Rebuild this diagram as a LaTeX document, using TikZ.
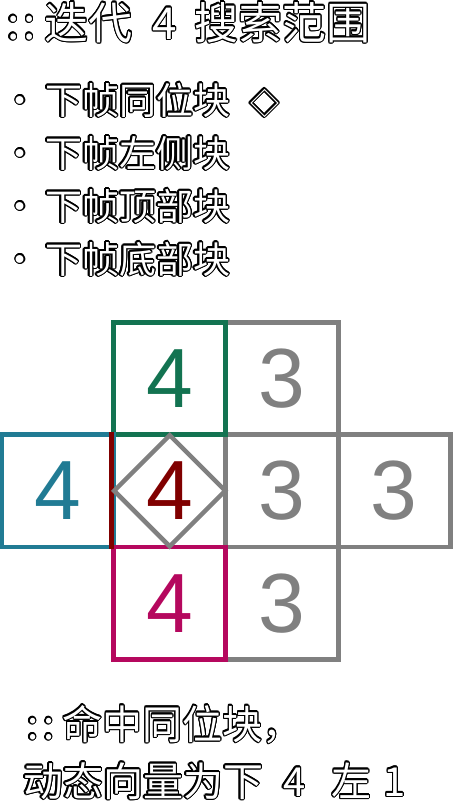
\documentclass[tikz,border=0pt]{standalone}
\usepackage{fontspec}
\setmainfont{Liberation Sans}
\newfontfamily\cjk{Noto Sans CJK SC}
\usepackage[copies]{contour}
\usetikzlibrary{calc}
\contourlength{1.3pt}
\definecolor{TopClr}{RGB}{19,115,81}
\definecolor{LeftClr}{RGB}{33,123,148}
\definecolor{SameClr}{RGB}{128,0,0}
\definecolor{BottomClr}{RGB}{181,8,94}
\definecolor{GridClr}{RGB}{128,128,128}
\newcommand{\outl}[1]{\contour{black}{#1}}

\begin{document}
\begin{tikzpicture}[x=1pt,y=-1pt,
  cell/.style={minimum size=112.3pt,inner sep=0pt,line width=4.8pt,font=\fontsize{84}{84}\selectfont},
  txt/.style={anchor=base west,inner sep=0pt,text=white,font=\cjk\fontsize{#1}{#1}\selectfont}]
\useasboundingbox (0,0) rectangle (453,801);

\node[txt=44] (title) at (7,39) {\outl{:\hspace{4pt}:\hspace{9pt}迭代\hspace{0.45em}4\hspace{0.4em}搜索范围}};

\node[txt=37] (dot1) at (1.5,114) {\outl{•}};
\node[txt=37] (item1) at (45,114) {\outl{下帧同位块\hspace{20pt}{\fontsize{29}{29}\selectfont◇}}};
\node[txt=37] (dot2) at (1.5,167) {\outl{•}};
\node[txt=37] (item2) at (45,167) {\outl{下帧左侧块}};
\node[txt=37] (dot3) at (1.5,220) {\outl{•}};
\node[txt=37] (item3) at (45,220) {\outl{下帧顶部块}};
\node[txt=37] (dot4) at (1.5,273) {\outl{•}};
\node[txt=37] (item4) at (45,273) {\outl{下帧底部块}};

\node[cell,draw=GridClr,text=GridClr] (topright) at (282,378.5) {3};
\node[cell,draw=GridClr,text=GridClr] (right) at (282,490.8) {3};
\node[cell,draw=GridClr,text=GridClr] (farright) at (394.3,490.8) {3};
\node[cell,draw=GridClr,text=GridClr] (bottomright) at (282,603.1) {3};

\node[cell,draw=TopClr,text=TopClr] (top) at (169.7,378.5) {4};
\node[cell,draw=LeftClr,text=LeftClr] (left) at (57.4,490.8) {4};
\node[cell,draw=BottomClr,text=BottomClr] (bottom) at (169.7,603.1) {4};
\node[cell,text=SameClr] (same) at (169.7,490.8) {4};

\draw[SameClr,line width=4.8pt] (same.north west) -- (same.south west);
\draw[GridClr,line width=4.5pt] ($(same.north)+(0,3)$) -- ($(same.east)+(-3,0)$)
  -- ($(same.south)+(0,-3)$) -- ($(same.west)+(3,0)$) -- cycle;

\node[txt=40] (hit) at (27,739) {\outl{:\hspace{5pt}:\hspace{8pt}命中同位块，}};
\node[txt=40] (vector) at (23,796) {\outl{动态向量为下\hspace{0.5em}4\hspace{0.65em}左\hspace{0.3em}1}};

\end{tikzpicture}
\end{document}
